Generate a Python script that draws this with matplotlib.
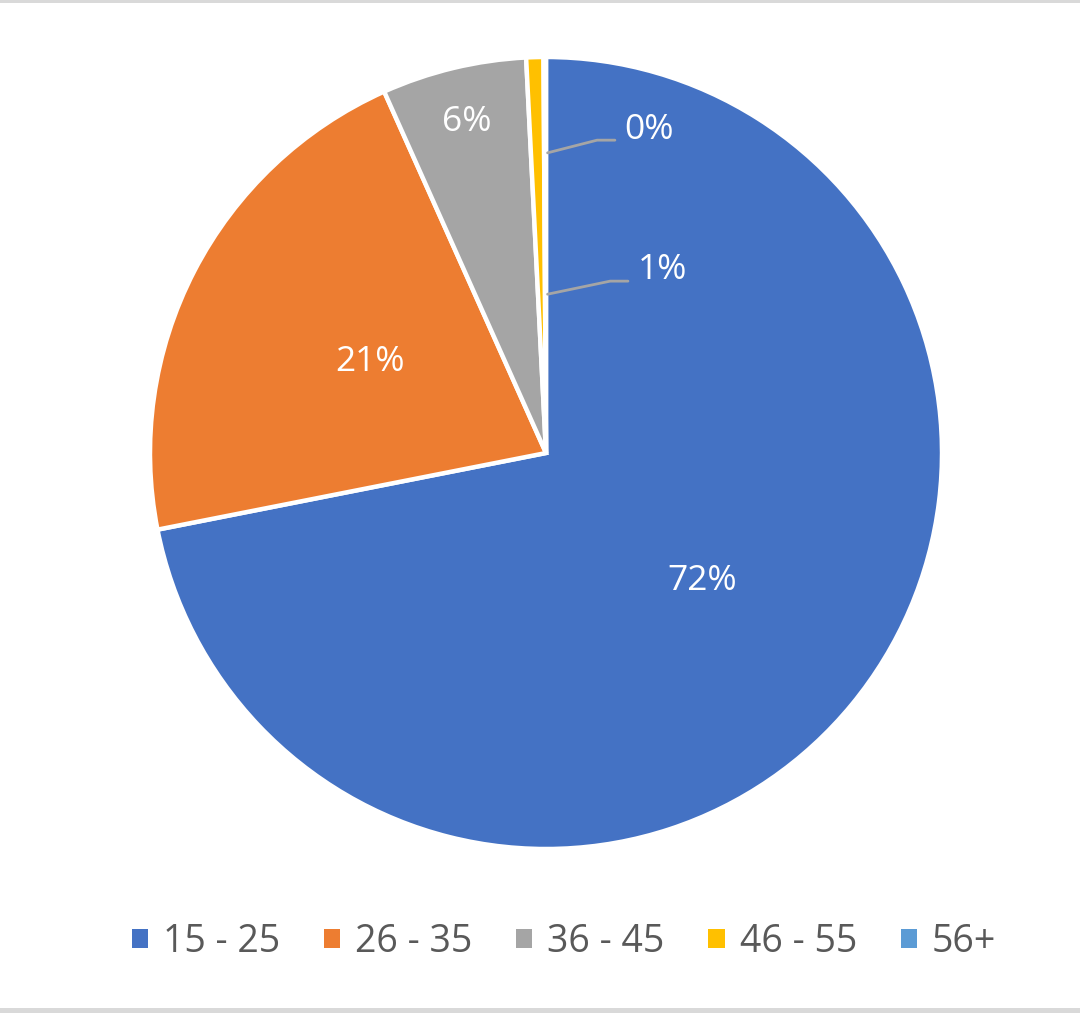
import numpy as np
import matplotlib.pyplot as plt

# Distribución por edades
categorias = ['15 - 25', '26 - 35', '36 - 45', '46 - 55', '56+']
valores = [71.9, 21.4, 5.9, 0.7, 0.1]
colores = ['#4472C4', '#ED7D31', '#A5A5A5', '#FFC000', '#5B9BD5']

plt.rcParams['font.family'] = ['Open Sans', 'DejaVu Sans']

fig = plt.figure(figsize=(10.8, 10.13), dpi=100)
ax = fig.add_axes([150 / 1080, 1 - 849 / 1013, 792 / 1080, 792 / 1013])

wedges, _ = ax.pie(valores, colors=colores, startangle=90, counterclock=False,
                   radius=1, wedgeprops=dict(edgecolor='white', linewidth=3.2))
ax.set_xlim(-1, 1)
ax.set_ylim(-1, 1)
ax.set_aspect('equal')
ax.axis('off')

total = sum(valores)
etiquetas = [f'{round(v / total * 100):.0f}%' for v in valores]

# etiquetas internas (radio de cada una)
radios = [0.51, 0.5, 0.86]
for w, txt, r in zip(wedges[:3], etiquetas[:3], radios):
    ang = np.deg2rad((w.theta1 + w.theta2) / 2)
    ax.text(r * np.cos(ang), r * np.sin(ang), txt, color='white',
            fontsize=25.5, ha='center', va='center')

# etiquetas con línea guía para las porciones pequeñas
# indice: (radio de inicio, codo, fin de la línea, centro del texto)
guias = {3: (0.401, (0.162, 0.434), 0.207, (0.293, 0.462)),
         4: (0.758, (0.129, 0.790), 0.174, (0.260, 0.816))}
for i, (r, codo, fin, pos) in guias.items():
    x0, y0 = 0.004, r
    ax.plot([x0, codo[0], fin], [y0, codo[1], codo[1]],
            color='#A5A5A5', lw=2, solid_capstyle='round')
    ax.text(pos[0], pos[1], etiquetas[i], color='white', fontsize=25.5,
            ha='center', va='center')

leg = fig.legend(wedges, categorias, loc='center', bbox_to_anchor=(564 / 1080, 1 - 942 / 1013),
                 ncol=5, frameon=False, fontsize=27, handlelength=0.43, handleheight=0.4,
                 handletextpad=0.4, columnspacing=1.17, labelcolor='#595959')
for h in leg.legend_handles:
    h.set_edgecolor('none')

# bordes grises arriba y abajo
fig.add_artist(plt.Rectangle((0, 1 - 3 / 1013), 1, 3 / 1013, transform=fig.transFigure,
                             color='#D9D9D9', lw=0))
fig.add_artist(plt.Rectangle((0, 0), 1, 5 / 1013, transform=fig.transFigure,
                             color='#D9D9D9', lw=0))

fig.savefig('out.png', dpi=100)
